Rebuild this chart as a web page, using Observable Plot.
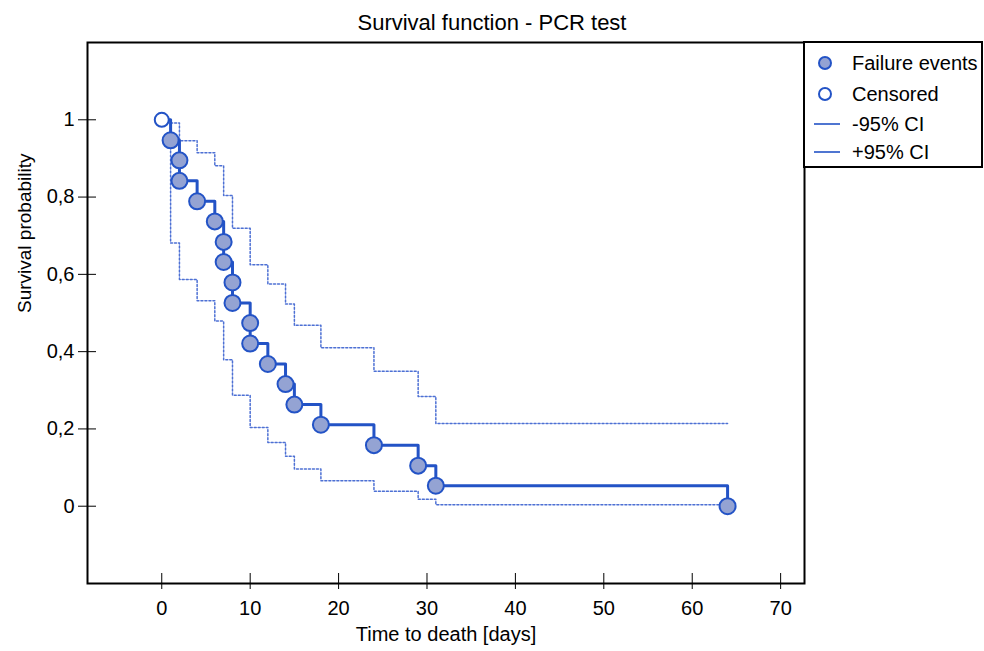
<!DOCTYPE html>
<html>
<head>
<meta charset="utf-8">
<script src="https://cdn.jsdelivr.net/npm/d3@7"></script>
<script src="https://cdn.jsdelivr.net/npm/@observablehq/plot@0.6"></script>
<style>
  html, body { margin: 0; padding: 0; background: #fff; }
  body { font-family: "Liberation Sans", Arial, sans-serif; color: #000; }
  #wrap { position: relative; width: 984px; height: 651px; overflow: hidden; background: #fff; }
  #title { width: 984px; height: 34px; box-sizing: border-box; padding-top: 12px; font-size: 22px; line-height: 22px; text-align: center; }
  #legend { position: absolute; left: 803px; top: 41px; width: 180px; height: 127px; box-sizing: border-box; border: 2px solid #000; background: #fff; }
  #legend .row { position: absolute; left: 0; height: 24px; width: 100%; }
  #legend svg { position: absolute; left: 6px; top: 0; }
  #legend span { position: absolute; left: 47px; top: 0; font-size: 20px; line-height: 24px; white-space: nowrap; }
</style>
</head>
<body>
<div id="wrap">
  <div id="title">Survival function - PCR test</div>
  <div id="chart"></div>
  <div id="legend"></div>
</div>
<script>
// ---- data ----
const times    = [0, 1, 2, 2, 4, 6, 7, 7, 8, 8, 10, 10, 12, 14, 15, 18, 24, 29, 31, 64];
const survival = [1, 0.947, 0.895, 0.842, 0.789, 0.737, 0.684, 0.632, 0.579, 0.526, 0.474, 0.421, 0.368, 0.316, 0.263, 0.211, 0.158, 0.105, 0.053, 0];
const status   = ["censored", "failure", "failure", "failure", "failure", "failure", "failure", "failure", "failure", "failure",
                  "failure", "failure", "failure", "failure", "failure", "failure", "failure", "failure", "failure", "failure"];
const ciTimes  = [0, 1, 2, 4, 6, 7, 8, 10, 12, 14, 15, 18, 24, 29, 31, 64];
const ciLower  = [1, 0.681, 0.587, 0.532, 0.479, 0.379, 0.287, 0.204, 0.165, 0.129, 0.096, 0.066, 0.039, 0.018, 0.004, 0.004];
const ciUpper  = [1, 0.992, 0.946, 0.915, 0.881, 0.804, 0.719, 0.625, 0.575, 0.523, 0.468, 0.410, 0.349, 0.284, 0.214, 0.214];
const xTicks   = [0, 10, 20, 30, 40, 50, 60, 70];
const yTicks   = [0, 0.2, 0.4, 0.6, 0.8, 1];
const legendItems = ["Failure events", "Censored", "-95% CI", "+95% CI"];

const km = times.map((t, i) => ({t, s: survival[i], status: status[i]}));
const ci = ciTimes.map((t, i) => ({t, lo: ciLower[i], hi: ciUpper[i]}));

const lineColor = "#2353c6";
const ciColor = "#4d70d4";
const dotFill = "#94a3d3";
const font = "'Liberation Sans', Arial, sans-serif";
const fmtY = d => String(d).replace(".", ",");

const chart = Plot.plot({
  width: 984,
  height: 617,
  marginLeft: 87,
  marginRight: 180,
  marginTop: 8,
  marginBottom: 68,
  style: {fontFamily: font, fontSize: "20px", color: "#000", background: "#fff", overflow: "visible"},
  x: {domain: [-8.4, 72.7], label: null},
  y: {domain: [-0.2, 1.2], label: null},
  marks: [
    Plot.line(ci, {x: "t", y: "lo", curve: "step-after", stroke: ciColor, strokeWidth: 1.5, strokeDasharray: "2,2"}),
    Plot.line(ci, {x: "t", y: "hi", curve: "step-after", stroke: ciColor, strokeWidth: 1.5, strokeDasharray: "2,2"}),
    Plot.line(km, {x: "t", y: "s", curve: "step-after", stroke: lineColor, strokeWidth: 3}),
    Plot.dot(km.filter(d => d.status === "failure"), {x: "t", y: "s", r: 8, fill: dotFill, stroke: lineColor, strokeWidth: 2}),
    Plot.dot(km.filter(d => d.status === "censored"), {x: "t", y: "s", r: 7, fill: "#fff", stroke: lineColor, strokeWidth: 2}),
    Plot.frame({stroke: "#000", strokeWidth: 2}),
    Plot.axisX({ticks: xTicks, tickSize: 6, tickPadding: 11, fontSize: 20, label: null, stroke: "#000", fill: "#000"}),
    Plot.axisX({ticks: xTicks, tickSize: 10, dy: -10, fill: "none", label: null, stroke: "#000"}),
    Plot.axisY({ticks: yTicks, tickSize: 9, tickPadding: 4, tickFormat: fmtY, fontSize: 20, label: null, stroke: "#000", fill: "#000"}),
    Plot.axisY({ticks: yTicks, tickSize: 9, dx: 9, fill: "none", label: null, stroke: "#000"}),
    Plot.text(["Time to death [days]"], {frameAnchor: "bottom", dy: 57, fontSize: 20, fill: "#000"}),
    Plot.text(["Survival probability"], {frameAnchor: "left", dx: -63, rotate: -90, fontSize: 19, fill: "#000"})
  ]
});
document.getElementById("chart").appendChild(chart);

// ---- legend ----
const legend = document.getElementById("legend");
const rowTops = [8, 39, 69, 97];
legendItems.forEach((label, i) => {
  const row = document.createElement("div");
  row.className = "row";
  row.style.top = rowTops[i] + "px";
  let sym;
  if (i === 0) sym = `<circle cx="14" cy="12" r="6" fill="${dotFill}" stroke="${lineColor}" stroke-width="2"/>`;
  else if (i === 1) sym = `<circle cx="14" cy="12" r="6" fill="#fff" stroke="${lineColor}" stroke-width="2"/>`;
  else sym = `<line x1="3" x2="29" y1="12" y2="12" stroke="${lineColor}" stroke-width="1.6"/>`;
  row.innerHTML = `<svg width="32" height="24">${sym}</svg><span>${label}</span>`;
  legend.appendChild(row);
});
</script>
</body>
</html>
